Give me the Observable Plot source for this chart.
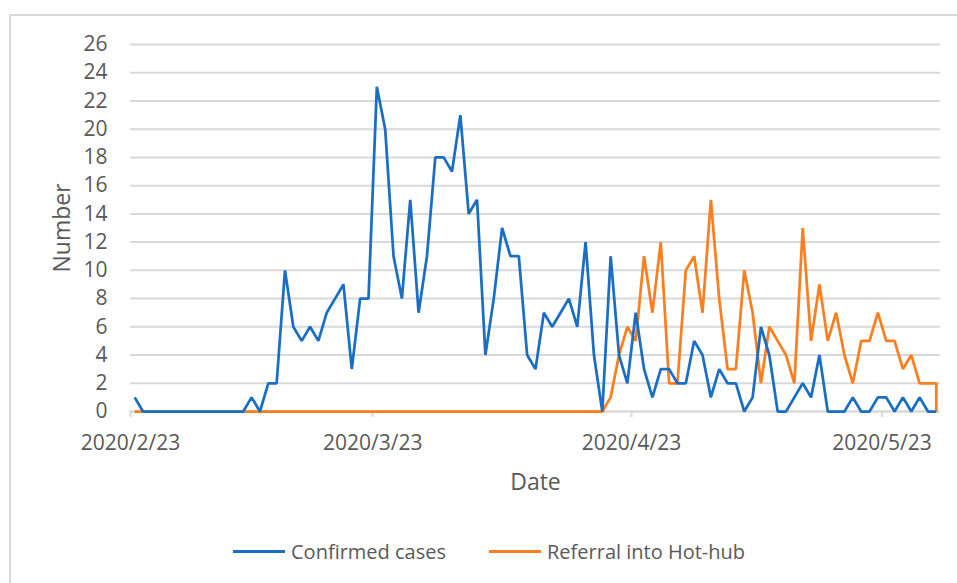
<!DOCTYPE html>
<html>
<head>
<meta charset="utf-8">
<script src="https://cdn.jsdelivr.net/npm/d3@7"></script>
<script src="https://cdn.jsdelivr.net/npm/@observablehq/plot@0.6"></script>
<style>
  html, body { margin: 0; padding: 0; background: #fff; }
  body { width: 957px; height: 583px; position: relative; overflow: hidden; font-family: "Open Sans", sans-serif; }
  #frame { position: absolute; left: 9px; top: 14px; width: 980px; height: 600px; border: 2px solid #d9d9d9; box-sizing: border-box; }
  #chart { position: absolute; left: 0; top: 0; }
  #legend { position: absolute; left: 233px; top: 536px; height: 30px; display: flex; align-items: center; font-size: 20px; color: #595959; }
  .item { display: flex; align-items: center; margin-right: 43px; }
  .sw { width: 52px; height: 3px; margin-right: 6px; }
</style>
</head>
<body>
<div id="frame"></div>
<div id="chart"></div>
<div id="legend"></div>
<script>
// Series names and colours
const seriesNames = ["Confirmed cases", "Referral into Hot-hub"];
const seriesColors = ["#1a6fc4", "#f97f21"];

// First and last dates of the daily series (the last date occurs twice in the source)
const startDate = "2020-02-23";
const endDate = "2020-05-29";

// Daily confirmed cases, 2020/2/23 .. 2020/5/29, plus the repeated final row
const confirmed = [
  1, 0, 0, 0, 0, 0, 0, 0, 0, 0, 0, 0, 0, 0, 1, 0, 2, 2, 10, 6,
  5, 6, 5, 7, 8, 9, 3, 8, 8, 23, 20, 11, 8, 15, 7, 11, 18, 18, 17, 21,
  14, 15, 4, 8, 13, 11, 11, 4, 3, 7, 6, 7, 8, 6, 12, 4, 0, 11, 4, 2,
  7, 3, 1, 3, 3, 2, 2, 5, 4, 1, 3, 2, 2, 0, 1, 6, 4, 0, 0, 1,
  2, 1, 4, 0, 0, 0, 1, 0, 0, 1, 1, 0, 1, 0, 1, 0, 0, 0
];

// Daily referrals into Hot-hub, same dates
const referral = [
  0, 0, 0, 0, 0, 0, 0, 0, 0, 0, 0, 0, 0, 0, 0, 0, 0, 0, 0, 0,
  0, 0, 0, 0, 0, 0, 0, 0, 0, 0, 0, 0, 0, 0, 0, 0, 0, 0, 0, 0,
  0, 0, 0, 0, 0, 0, 0, 0, 0, 0, 0, 0, 0, 0, 0, 0, 0, 1, 4, 6,
  5, 11, 7, 12, 2, 2, 10, 11, 7, 15, 8, 3, 3, 10, 7, 2, 6, 5, 4, 2,
  13, 5, 9, 5, 7, 4, 2, 5, 5, 7, 5, 5, 3, 4, 2, 2, 2, 0
];

// Axis tick labels
const xTickLabels = ["2020/2/23", "2020/3/23", "2020/4/23", "2020/5/23"];
const yTicks = [0, 2, 4, 6, 8, 10, 12, 14, 16, 18, 20, 22, 24, 26];

// Build the date category list (one per day, final date repeated)
const days = d3.utcDay.range(new Date(startDate), d3.utcDay.offset(new Date(endDate), 1));
days.push(new Date(endDate));

const rows = [];
days.forEach((d, i) => {
  rows.push({date: d, value: confirmed[i], series: seriesNames[0]});
});
days.forEach((d, i) => {
  rows.push({date: d, value: referral[i], series: seriesNames[1]});
});

// Date axis: each date occupies a slot; ticks sit at slot boundaries
const halfDay = 12 * 3600 * 1000;
const xDomain = [new Date(+new Date(startDate) - halfDay), new Date(+new Date(endDate) + halfDay)];
const tickDates = xTickLabels.map(s => {
  const [y, m, d] = s.split("/").map(Number);
  return new Date(Date.UTC(y, m - 1, d) - halfDay);
});
const labelOf = new Map(tickDates.map((t, i) => [+t, xTickLabels[i]]));

const textColor = "#595959";

const plot = Plot.plot({
  width: 957,
  height: 520,
  marginLeft: 130,
  marginRight: 17,
  marginTop: 44,
  marginBottom: 109,
  style: {fontFamily: "Open Sans, sans-serif", fontSize: "20px", color: textColor, background: "transparent"},
  x: {type: "utc", domain: xDomain},
  y: {domain: [0, 26]},
  color: {domain: seriesNames, range: seriesColors},
  marks: [
    Plot.gridY(yTicks, {stroke: "#d9d9d9", strokeOpacity: 1, strokeWidth: 2}),
    Plot.ruleY([0], {stroke: "#d9d9d9", strokeWidth: 2}),
    Plot.axisY(yTicks, {tickSize: 0, tickPadding: 23, label: null, fill: textColor, fontSize: 21}),
    Plot.axisX(tickDates, {tickSize: 6, tickPadding: 18, stroke: "#d9d9d9", strokeWidth: 2, strokeOpacity: 1,
      tickFormat: d => labelOf.get(+d), label: null, fill: textColor, fontSize: 21}),
    Plot.line(rows.filter(r => r.series === seriesNames[1]), {x: "date", y: "value", stroke: "series", strokeWidth: 2.75, strokeLinejoin: "miter", strokeLinecap: "butt"}),
    Plot.line(rows.filter(r => r.series === seriesNames[0]), {x: "date", y: "value", stroke: "series", strokeWidth: 2.75, strokeLinejoin: "miter", strokeLinecap: "butt"}),
    Plot.text(["Number"], {frameAnchor: "left", dx: -68, rotate: -90, textAnchor: "middle", lineAnchor: "middle", fill: textColor, fontSize: 23, text: d => d}),
    Plot.text(["Date"], {frameAnchor: "bottom", dy: 71, textAnchor: "middle", lineAnchor: "middle", fill: textColor, fontSize: 23, text: d => d})
  ]
});
document.getElementById("chart").appendChild(plot);

// Legend below the chart
const legend = document.getElementById("legend");
seriesNames.forEach((name, i) => {
  const item = document.createElement("div");
  item.className = "item";
  const sw = document.createElement("div");
  sw.className = "sw";
  sw.style.background = seriesColors[i];
  const label = document.createElement("span");
  label.textContent = name;
  item.appendChild(sw);
  item.appendChild(label);
  legend.appendChild(item);
});
</script>
</body>
</html>
